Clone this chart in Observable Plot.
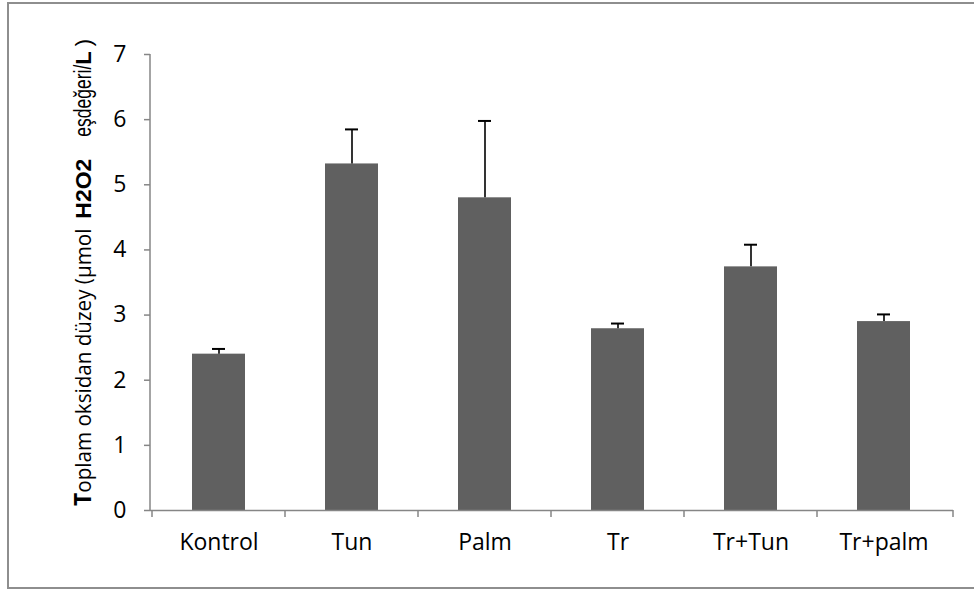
<!DOCTYPE html>
<html>
<head>
<meta charset="utf-8">
<script src="https://cdn.jsdelivr.net/npm/d3@7"></script>
<script src="https://cdn.jsdelivr.net/npm/@observablehq/plot@0.6"></script>
<style>
  body { margin: 0; background: #fff; }
  #wrap { position: relative; width: 974px; height: 590px; overflow: hidden; }
  #wrap svg { position: absolute; left: 0; top: 0; }
  #border { position: absolute; left: 7px; top: 2px; width: 1000px; height: 587px;
            border: 2px solid #8e8e8e; box-sizing: border-box; pointer-events: none; }
</style>
</head>
<body>
<div id="wrap"><div id="border"></div></div>
<script>
// Groups, mean total oxidant level and upper error (SD) per group
const groups = ["Kontrol", "Tun", "Palm", "Tr", "Tr+Tun", "Tr+palm"];
const means  = [2.40, 5.32, 4.80, 2.79, 3.74, 2.90];
const errors = [0.08, 0.53, 1.18, 0.08, 0.34, 0.11];
const yTicks = [0, 1, 2, 3, 4, 5, 6, 7];

const data = groups.map((g, i) => ({group: g, mean: means[i], top: means[i] + errors[i]}));

const axisGray = "#868686";

const chart = Plot.plot({
  width: 974,
  height: 590,
  marginLeft: 150,
  marginRight: 21,
  marginTop: 54,
  marginBottom: 80,
  style: {fontFamily: "'Open Sans', sans-serif", fontSize: "23px", color: "#000", background: "transparent"},
  x: {domain: groups, paddingInner: 0.6, paddingOuter: 0.3},
  y: {domain: [0, 7]},
  marks: [
    Plot.barY(data, {x: "group", y: "mean", fill: "#606060"}),
    Plot.ruleX(data, {x: "group", y1: "mean", y2: "top", stroke: "#000", strokeWidth: 1.6}),
    Plot.tickY(data, {x: "group", y: "top", stroke: "#000", strokeWidth: 2, inset: 20}),
    Plot.ruleY([0], {stroke: axisGray, strokeWidth: 1.5}),
    Plot.axisY({ticks: yTicks, tickFormat: "d", tickSize: 6, tickPadding: 18, stroke: axisGray,
                strokeWidth: 1.5, label: null, fill: "#000", fontSize: 23}),
    Plot.axisX({tickSize: 0, tickPadding: 23, label: null, fill: "#000", fontSize: 23})
  ]
});

document.getElementById("wrap").insertBefore(chart, document.getElementById("border"));

// Vertical axis line and category boundary ticks, placed with the chart's own scales
const sx = chart.scale("x");
const sy = chart.scale("y");
const svg = d3.select(chart);
const y0 = sy.apply(0);
svg.append("line")
  .attr("x1", sx.range[0]).attr("x2", sx.range[0])
  .attr("y1", sy.apply(7)).attr("y2", y0)
  .attr("stroke", axisGray).attr("stroke-width", 1.5);
const bounds = groups.map(g => sx.apply(g) + sx.bandwidth / 2 - sx.step / 2).concat([sx.range[1]]);
svg.append("g").selectAll("line").data(bounds).join("line")
  .attr("x1", d => d).attr("x2", d => d)
  .attr("y1", y0).attr("y2", y0 + 7)
  .attr("stroke", axisGray).attr("stroke-width", 1.5);

// Rotated y-axis title in mixed type: each run is laid out after the previous one
const sans = "'Open Sans', sans-serif";
const arial = "'Liberation Sans', Arial, sans-serif";
const titleRuns = [
  {text: "T", font: sans, size: 23, weight: "bold"},
  {text: "oplam oksidan düzey (µmol", font: sans, size: 22, length: 264},
  {text: "H2O2", font: arial, size: 22, weight: "bold", gap: 10, length: 60},
  {text: "eşdeğeri/", font: arial, size: 23, gap: 22, length: 72},
  {text: "L", font: arial, size: 22, weight: "bold"},
  {text: ")", font: arial, size: 22, gap: 5}
];
const titleBaseX = 91;
let cursor = y0 - 4;
const titleG = svg.append("g").attr("fill", "#000").attr("text-anchor", "start");
for (const run of titleRuns) {
  cursor -= run.gap || 0;
  const t = titleG.append("text")
    .attr("transform", `translate(${titleBaseX},${cursor}) rotate(-90)`)
    .attr("text-anchor", "start")
    .attr("font-family", run.font)
    .attr("font-size", run.size)
    .attr("font-weight", run.weight || "normal")
    .text(run.text);
  if (run.length) t.attr("textLength", run.length).attr("lengthAdjust", "spacingAndGlyphs");
  cursor -= run.length || t.node().getComputedTextLength();
}
</script>
</body>
</html>
